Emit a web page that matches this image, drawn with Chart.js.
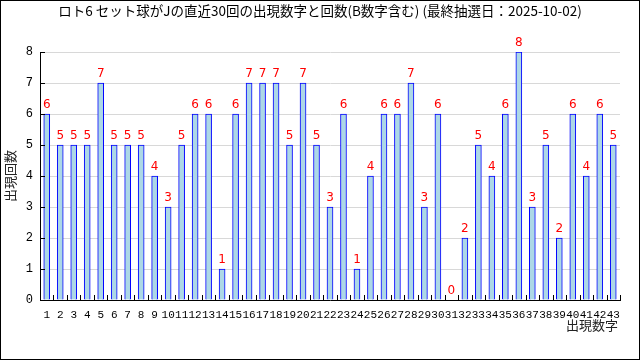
<!DOCTYPE html>
<html lang="ja">
<head>
<meta charset="UTF-8">
<title>ロト6 出現回数</title>
<script src="https://cdn.jsdelivr.net/npm/chart.js@4.4.1/dist/chart.umd.min.js"></script>
<style>
  html, body { margin: 0; padding: 0; background: #fff; }
  canvas { display: block; }
</style>
</head>
<body>
<canvas id="c" width="640" height="360"></canvas>
<script>
// 出現数字 1〜43 と直近30回の出現回数
const numbers = ['1','2','3','4','5','6','7','8','9','10','11','12','13','14','15','16','17','18','19','20','21','22','23','24','25','26','27','28','29','30','31','32','33','34','35','36','37','38','39','40','41','42','43'];
const counts = [6,5,5,5,7,5,5,5,4,3,5,6,6,1,6,7,7,7,5,7,5,3,6,1,4,6,6,7,3,6,0,2,5,4,6,8,3,5,2,6,4,6,5];
const yTicks = [0,1,2,3,4,5,6,7,8];

const titleText = 'ロト6 セット球がJの直近30回の出現数字と回数(B数字含む) (最終抽選日：2025-10-02)';
const jpFont = '"Noto Sans CJK JP", sans-serif';
const monoFont = '"Liberation Mono", "DejaVu Sans Mono", monospace';

// frame, titles, inward tick marks and value labels
const decor = {
  id: 'decor',
  afterDraw(chart) {
    const ctx = chart.ctx;
    const xs = chart.scales.x, ys = chart.scales.y;
    const area = chart.chartArea;
    ctx.save();

    // outer frame
    ctx.strokeStyle = '#000';
    ctx.lineWidth = 1;
    ctx.strokeRect(0.5, 0.5, 639, 359);

    // inward tick marks
    ctx.beginPath();
    yTicks.forEach(v => {
      const y = Math.round(ys.getPixelForValue(v)) + 0.5;
      ctx.moveTo(area.left, y);
      ctx.lineTo(area.left + 5, y);
    });
    const step = (area.right - area.left) / numbers.length;
    for (let k = 1; k <= numbers.length; k++) {
      const x = Math.round(area.left + step * k) + 0.5;
      ctx.moveTo(x, area.bottom);
      ctx.lineTo(x, area.bottom - 5);
    }
    ctx.stroke();

    // title
    ctx.fillStyle = '#000';
    ctx.font = '13.5px ' + jpFont;
    ctx.textAlign = 'center';
    ctx.textBaseline = 'middle';
    ctx.fillText(titleText, 320, 11);

    // axis titles
    ctx.fillStyle = '#222';
    ctx.font = '13px ' + jpFont;
    ctx.textAlign = 'right';
    ctx.fillText('出現数字', 618, 325);
    ctx.save();
    ctx.translate(10, 176);
    ctx.rotate(-Math.PI / 2);
    ctx.textAlign = 'center';
    ctx.fillText('出現回数', 0, 0);
    ctx.restore();

    // value labels
    ctx.fillStyle = '#ff0000';
    ctx.font = '12px "DejaVu Sans", sans-serif';
    ctx.textAlign = 'center';
    ctx.textBaseline = 'alphabetic';
    chart.getDatasetMeta(0).data.forEach((bar, i) => {
      ctx.fillText(String(counts[i]), bar.x, bar.y - 6);
    });
    ctx.restore();
  }
};

new Chart(document.getElementById('c'), {
  type: 'bar',
  data: {
    labels: numbers,
    datasets: [{
      data: counts,
      backgroundColor: '#add8e6',
      borderColor: '#0000ff',
      borderWidth: 1,
      barThickness: 6
    }]
  },
  options: {
    responsive: false,
    animation: false,
    devicePixelRatio: 1,
    layout: { padding: { left: 0, right: 20, top: 52, bottom: 0 } },
    plugins: {
      legend: { display: false },
      tooltip: { enabled: false }
    },
    scales: {
      x: {
        grid: { display: false, drawTicks: false },
        border: { display: true, color: '#000', width: 1 },
        ticks: {
          autoSkip: false,
          maxRotation: 0,
          minRotation: 0,
          padding: 8,
          color: '#000',
          font: { family: monoFont, size: 11 }
        },
        afterFit(scale) { scale.height = 60; }
      },
      y: {
        min: 0,
        max: 8,
        afterBuildTicks(scale) { scale.ticks = yTicks.map(v => ({ value: v })); },
        grid: { color: '#d8d8d8', drawTicks: false },
        border: { display: true, color: '#000', width: 1 },
        ticks: {
          padding: 7,
          color: '#000',
          font: { family: monoFont, size: 12 }
        },
        afterFit(scale) { scale.width = 40; }
      }
    }
  },
  plugins: [decor]
});
</script>
</body>
</html>
